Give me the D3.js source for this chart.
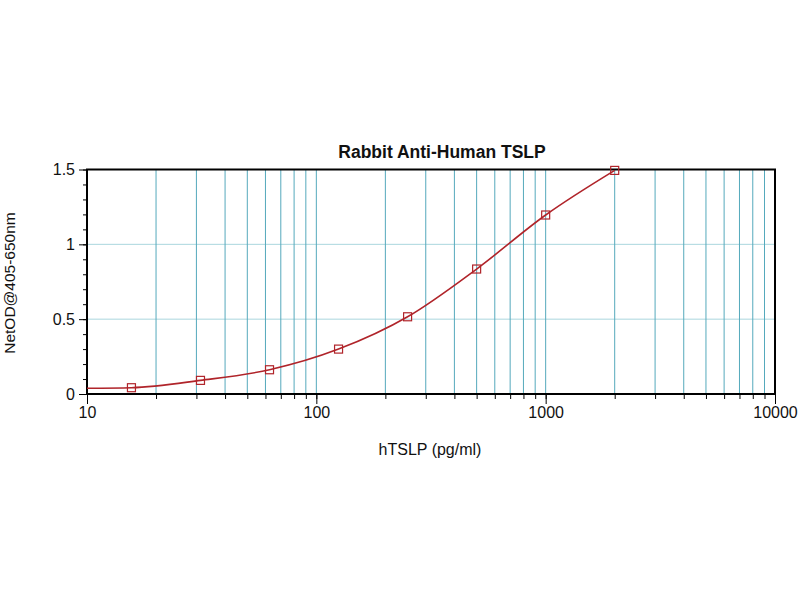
<!DOCTYPE html>
<html>
<head>
<meta charset="utf-8">
<script src="https://cdn.jsdelivr.net/npm/d3@7"></script>
<style>
  body { margin: 0; background: #fff; }
  text { font-family: Arial, "Liberation Sans", sans-serif; }
</style>
</head>
<body>
<script>
var width = 800, height = 600

// standards
var conc = [15.625, 31.25, 62.5, 125, 250, 500, 1000, 2000]
var od = [0.042, 0.091, 0.162, 0.30, 0.516, 0.835, 1.196, 1.494]

// fitted curve as drawn (starts at the left edge)
var fitConc = [10, 15.625, 31.25, 62.5, 125, 250, 500, 1000, 2000]
var fitOd = [0.038, 0.042, 0.091, 0.162, 0.30, 0.516, 0.835, 1.196, 1.494]

var xTicks = [10, 100, 1000, 10000]
var yTicks = [0, 0.5, 1, 1.5]

var x = d3.scaleLog()
    .domain([10, 10000])
    .range([87, 775])

var y = d3.scaleLinear()
    .domain([0, 1.5])
    .range([394, 169.5])

var svg = d3.select("body").append("svg")
    .attr("width", width)
    .attr("height", height)

// all the log ticks between the borders
var logTicks = x.ticks().filter(function(d) { return d > 10 && d < 10000 })

svg.append("g").selectAll("line") //HORIZONTAL GRID
    .data([0.5, 1])
  .enter().append("line")
    .attr("x1", x(10))
    .attr("x2", x(10000))
    .attr("y1", function(d) { return y(d) })
    .attr("y2", function(d) { return y(d) })
    .attr("stroke", "#aad6de")
    .attr("stroke-width", 1)

svg.append("g").selectAll("line") //VERTICAL GRID
    .data(logTicks)
  .enter().append("line")
    .attr("x1", function(d) { return x(d) })
    .attr("x2", function(d) { return x(d) })
    .attr("y1", y(1.5))
    .attr("y2", y(0))
    .attr("stroke", "#55a9bc")
    .attr("stroke-width", 1)

function styleText(g) {
  g.select(".domain").remove()
  g.selectAll("text").attr("font-size", 16).attr("fill", "#111")
    .attr("font-family", "Arial, 'Liberation Sans', sans-serif")
}

// x axis with minor ticks
svg.append("g")
    .attr("transform", "translate(0," + y(0) + ")")
    .call(d3.axisBottom(x).tickValues(x.ticks()).tickSize(5).tickFormat(""))
    .call(function(g) { g.select(".domain").remove() })

svg.append("g")
    .attr("transform", "translate(0," + y(0) + ")")
    .call(d3.axisBottom(x).tickValues(xTicks).tickSize(10).tickPadding(3).tickFormat(d3.format("d")))
    .call(styleText)

// y axis with minor ticks
svg.append("g")
    .attr("transform", "translate(" + x(10) + ",0)")
    .call(d3.axisLeft(y).ticks(15).tickSize(4).tickFormat(""))
    .call(function(g) { g.select(".domain").remove() })

svg.append("g")
    .attr("transform", "translate(" + x(10) + ",0)")
    .call(d3.axisLeft(y).tickValues(yTicks).tickSize(8).tickPadding(4).tickFormat(d3.format("")))
    .call(styleText)

// frame
svg.append("rect")
    .attr("x", x(10))
    .attr("y", y(1.5))
    .attr("width", x(10000) - x(10))
    .attr("height", y(0) - y(1.5))
    .attr("fill", "none")
    .attr("stroke", "#000")
    .attr("stroke-width", 2)

// curve
var line = d3.line()
    .x(function(d) { return x(d[0]) })
    .y(function(d) { return y(d[1]) })
    .curve(d3.curveMonotoneX)

svg.append("path")
    .datum(d3.zip(fitConc, fitOd))
    .attr("d", line)
    .attr("fill", "none")
    .attr("stroke", "#b0242a")
    .attr("stroke-width", 1.6)

svg.append("g").selectAll("rect") //STANDARDS
    .data(d3.zip(conc, od))
  .enter().append("rect")
    .attr("x", function(d) { return x(d[0]) - 4 })
    .attr("y", function(d) { return y(d[1]) - 4 })
    .attr("width", 8)
    .attr("height", 8)
    .attr("fill", "none")
    .attr("stroke", "#b0242a")
    .attr("stroke-width", 1.2)

// texts
svg.append("text")
    .text("Rabbit Anti-Human TSLP")
    .attr("x", 442)
    .attr("y", 158)
    .attr("text-anchor", "middle")
    .attr("font-size", 17.5)
    .attr("font-weight", "bold")
    .attr("fill", "#111")

svg.append("text")
    .text("hTSLP (pg/ml)")
    .attr("x", 430)
    .attr("y", 455)
    .attr("text-anchor", "middle")
    .attr("font-size", 16)
    .attr("fill", "#111")

svg.append("text")
    .text("NetOD@405-650nm")
    .attr("transform", "translate(15,283) rotate(-90)")
    .attr("text-anchor", "middle")
    .attr("font-size", 15.5)
    .attr("fill", "#111")
</script>
</body>
</html>
